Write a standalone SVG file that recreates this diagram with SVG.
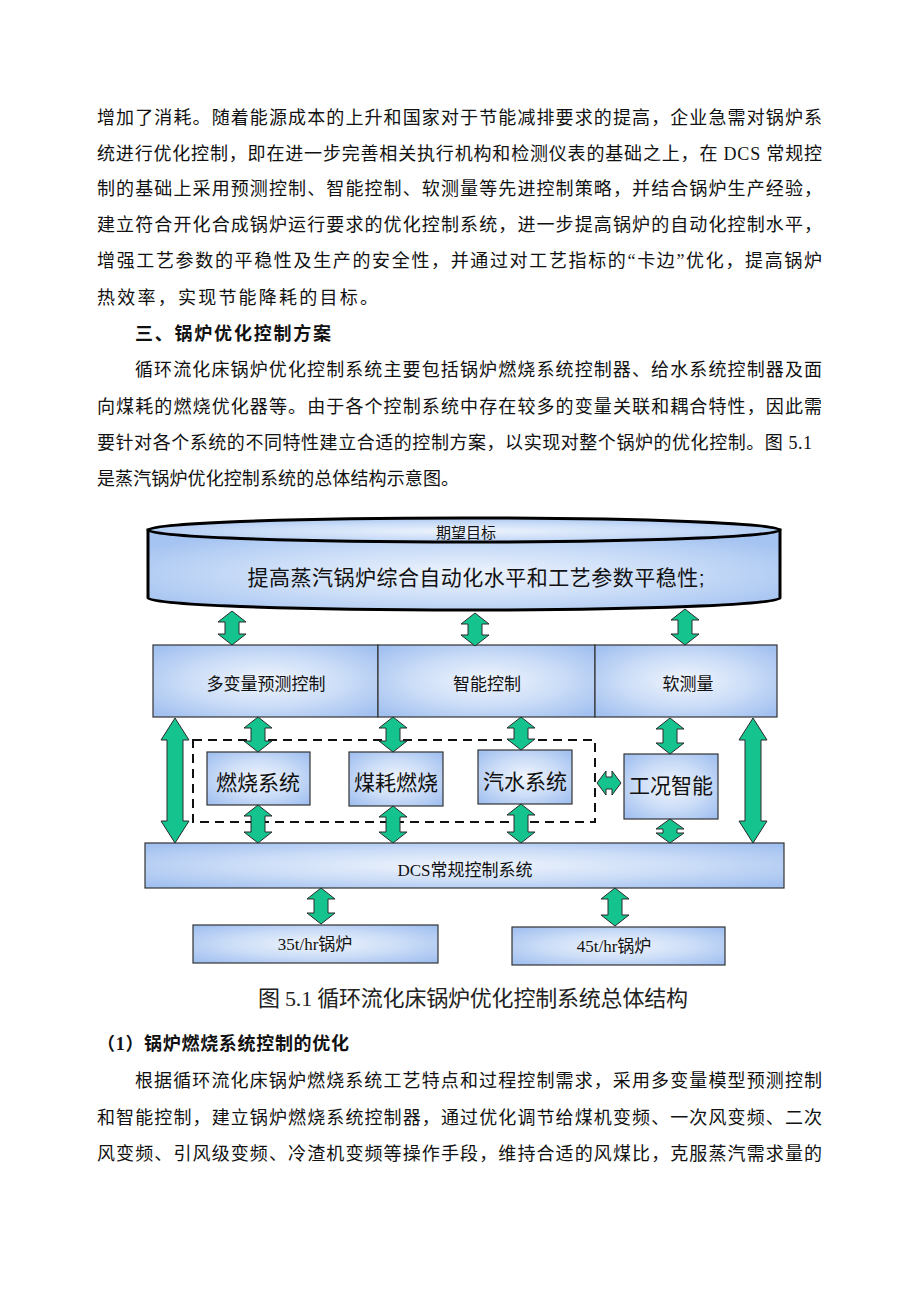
<svg xmlns="http://www.w3.org/2000/svg" width="920" height="1302" viewBox="0 0 920 1302">
<defs>
<radialGradient id="boxg" cx="50%" cy="50%" r="65%">
<stop offset="0" stop-color="#f0f5fd"/>
<stop offset="0.55" stop-color="#cadcf7"/>
<stop offset="1" stop-color="#a3c1f0"/>
</radialGradient>
<radialGradient id="cylg" cx="50%" cy="55%" r="60%">
<stop offset="0" stop-color="#eef4fd"/>
<stop offset="0.6" stop-color="#c6daf7"/>
<stop offset="1" stop-color="#a6c4f1"/>
</radialGradient>
<style>
.body{font-family:"Liberation Serif","Noto Sans CJK SC",serif;font-size:18px;fill:#111;}
.bold{font-weight:bold;}
.cap{font-family:"Liberation Serif","Noto Sans CJK SC",serif;font-size:22px;fill:#222;}
.box{fill:url(#boxg);stroke:#333;stroke-width:1.2;}
.lbl{font-family:"Liberation Sans","Noto Sans CJK SC",sans-serif;fill:#111;text-anchor:middle;}
.slbl{font-family:"Liberation Serif","Noto Sans CJK SC",serif;fill:#111;text-anchor:middle;font-size:17px;}
.arr{fill:#14c38e;stroke:#2a2a2a;stroke-width:1;}
</style>
</defs>
<rect width="920" height="1302" fill="#ffffff"/>

<g id="body-text">
<text class="body" x="97" y="124" textLength="725" lengthAdjust="spacing">增加了消耗。随着能源成本的上升和国家对于节能减排要求的提高，企业急需对锅炉系</text>
<text class="body" x="97" y="160" textLength="725" lengthAdjust="spacing">统进行优化控制，即在进一步完善相关执行机构和检测仪表的基础之上，在 DCS 常规控</text>
<text class="body" x="97" y="195" textLength="725" lengthAdjust="spacing">制的基础上采用预测控制、智能控制、软测量等先进控制策略，并结合锅炉生产经验，</text>
<text class="body" x="97" y="231" textLength="725" lengthAdjust="spacing">建立符合开化合成锅炉运行要求的优化控制系统，进一步提高锅炉的自动化控制水平，</text>
<text class="body" x="97" y="267" textLength="725" lengthAdjust="spacing">增强工艺参数的平稳性及生产的安全性，并通过对工艺指标的“卡边”优化，提高锅炉</text>
<text class="body" x="97" y="304" textLength="281" lengthAdjust="spacing">热效率，实现节能降耗的目标。</text>
<text class="body bold" x="135" y="340" textLength="196" lengthAdjust="spacing">三、锅炉优化控制方案</text>
<text class="body" x="135" y="376" textLength="687" lengthAdjust="spacing">循环流化床锅炉优化控制系统主要包括锅炉燃烧系统控制器、给水系统控制器及面</text>
<text class="body" x="97" y="413" textLength="725" lengthAdjust="spacing">向煤耗的燃烧优化器等。由于各个控制系统中存在较多的变量关联和耦合特性，因此需</text>
<text class="body" x="97" y="449" textLength="715" lengthAdjust="spacing">要针对各个系统的不同特性建立合适的控制方案，以实现对整个锅炉的优化控制。图 5.1</text>
<text class="body" x="97" y="485" textLength="362" lengthAdjust="spacing">是蒸汽锅炉优化控制系统的总体结构示意图。</text>
</g>

<g id="goal">
<path d="M148,530 L148,598 A316,12 0 0 0 780,598 L780,530 Z" fill="url(#cylg)" stroke="#000" stroke-width="3"/>
<ellipse cx="464" cy="530" rx="316" ry="12" fill="url(#cylg)" stroke="#000" stroke-width="3"/>
<text class="lbl" x="466" y="538" font-size="15">期望目标</text>
<text class="lbl" x="476" y="585" font-size="21" textLength="457" lengthAdjust="spacing">提高蒸汽锅炉综合自动化水平和工艺参数平稳性;</text>
</g>

<g id="mpc">
<rect class="box" x="153" y="645" width="225" height="72"/>
<text class="lbl" x="266" y="690" font-size="17">多变量预测控制</text>
</g>
<g id="intel">
<rect class="box" x="378" y="645" width="217" height="72"/>
<text class="lbl" x="487" y="690" font-size="17">智能控制</text>
</g>
<g id="soft">
<rect class="box" x="595" y="645" width="182" height="72"/>
<text class="lbl" x="688" y="690" font-size="17">软测量</text>
</g>

<g id="dashed-group">
<rect x="193" y="740" width="402" height="82" fill="none" stroke="#111" stroke-width="2" stroke-dasharray="9,6"/>
</g>

<g id="combustion">
<rect class="box" x="207" y="752" width="103" height="53"/>
<text class="lbl" x="258" y="790" font-size="21">燃烧系统</text>
</g>
<g id="coal">
<rect class="box" x="349" y="752" width="94" height="54"/>
<text class="lbl" x="396" y="790" font-size="21">煤耗燃烧</text>
</g>
<g id="steamwater">
<rect class="box" x="478" y="750" width="94" height="54"/>
<text class="lbl" x="525" y="789" font-size="21">汽水系统</text>
</g>
<g id="condition">
<rect class="box" x="624" y="754" width="94" height="65"/>
<text class="lbl" x="671" y="793" font-size="21">工况智能</text>
</g>

<g id="dcs">
<rect class="box" x="145" y="843" width="639" height="45"/>
<text class="slbl" x="465" y="876">DCS常规控制系统</text>
</g>
<g id="boiler35">
<rect class="box" x="193" y="925" width="245" height="38"/>
<text class="slbl" x="315" y="950">35t/hr锅炉</text>
</g>
<g id="boiler45">
<rect class="box" x="512" y="927" width="213" height="38"/>
<text class="slbl" x="614" y="952">45t/hr锅炉</text>
</g>

<g id="connectors">
<path class="arr" d="M232,611 L246,622 L239,622 L239,634 L246,634 L232,645 L218,634 L225,634 L225,622 L218,622 Z"/>
<path class="arr" d="M475,613 L489,624 L482,624 L482,635 L489,635 L475,646 L461,635 L468,635 L468,624 L461,624 Z"/>
<path class="arr" d="M685,609 L699,620 L692,620 L692,634 L699,634 L685,645 L671,634 L678,634 L678,620 L671,620 Z"/>
<path class="arr" d="M258,717 L272,728 L265,728 L265,741 L272,741 L258,752 L244,741 L251,741 L251,728 L244,728 Z"/>
<path class="arr" d="M393,717 L407,728 L400,728 L400,741 L407,741 L393,752 L379,741 L386,741 L386,728 L379,728 Z"/>
<path class="arr" d="M521,717 L535,728 L528,728 L528,739 L535,739 L521,750 L507,739 L514,739 L514,728 L507,728 Z"/>
<path class="arr" d="M670,718 L684,729 L677,729 L677,743 L684,743 L670,754 L656,743 L663,743 L663,729 L656,729 Z"/>
<path class="arr" d="M175,718 L189,740 L183,740 L183,821 L189,821 L175,843 L161,821 L167,821 L167,740 L161,740 Z"/>
<path class="arr" d="M753,718 L767,740 L761,740 L761,821 L767,821 L753,843 L739,821 L745,821 L745,740 L739,740 Z"/>
<path class="arr" d="M258,805 L272,816 L265,816 L265,832 L272,832 L258,843 L244,832 L251,832 L251,816 L244,816 Z"/>
<path class="arr" d="M393,806 L407,817 L400,817 L400,832 L407,832 L393,843 L379,832 L386,832 L386,817 L379,817 Z"/>
<path class="arr" d="M521,804 L535,815 L528,815 L528,832 L535,832 L521,843 L507,832 L514,832 L514,815 L507,815 Z"/>
<path class="arr" d="M670,819 L684,829 L677,829 L677,833 L684,833 L670,843 L656,833 L663,833 L663,829 L656,829 Z"/>
<path class="arr" d="M597,783 L606,771 L606,777 L612,777 L612,771 L621,783 L612,795 L612,789 L606,789 L606,795 Z"/>
<path class="arr" d="M321,888 L335,899 L328,899 L328,913 L335,913 L321,924 L307,913 L314,913 L314,899 L307,899 Z"/>
<path class="arr" d="M615,888 L629,899 L622,899 L622,915 L629,915 L615,926 L601,915 L608,915 L608,899 L601,899 Z"/>
</g>

<g id="caption">
<text class="cap" x="258" y="1006" textLength="430" lengthAdjust="spacing">图 5.1 循环流化床锅炉优化控制系统总体结构</text>
</g>

<g id="body-text-2">
<text class="body bold" x="97" y="1050" textLength="252" lengthAdjust="spacing">（1）锅炉燃烧系统控制的优化</text>
<text class="body" x="135" y="1087" textLength="687" lengthAdjust="spacing">根据循环流化床锅炉燃烧系统工艺特点和过程控制需求，采用多变量模型预测控制</text>
<text class="body" x="97" y="1124" textLength="725" lengthAdjust="spacing">和智能控制，建立锅炉燃烧系统控制器，通过优化调节给煤机变频、一次风变频、二次</text>
<text class="body" x="97" y="1160" textLength="725" lengthAdjust="spacing">风变频、引风级变频、冷渣机变频等操作手段，维持合适的风煤比，克服蒸汽需求量的</text>
</g>
</svg>
